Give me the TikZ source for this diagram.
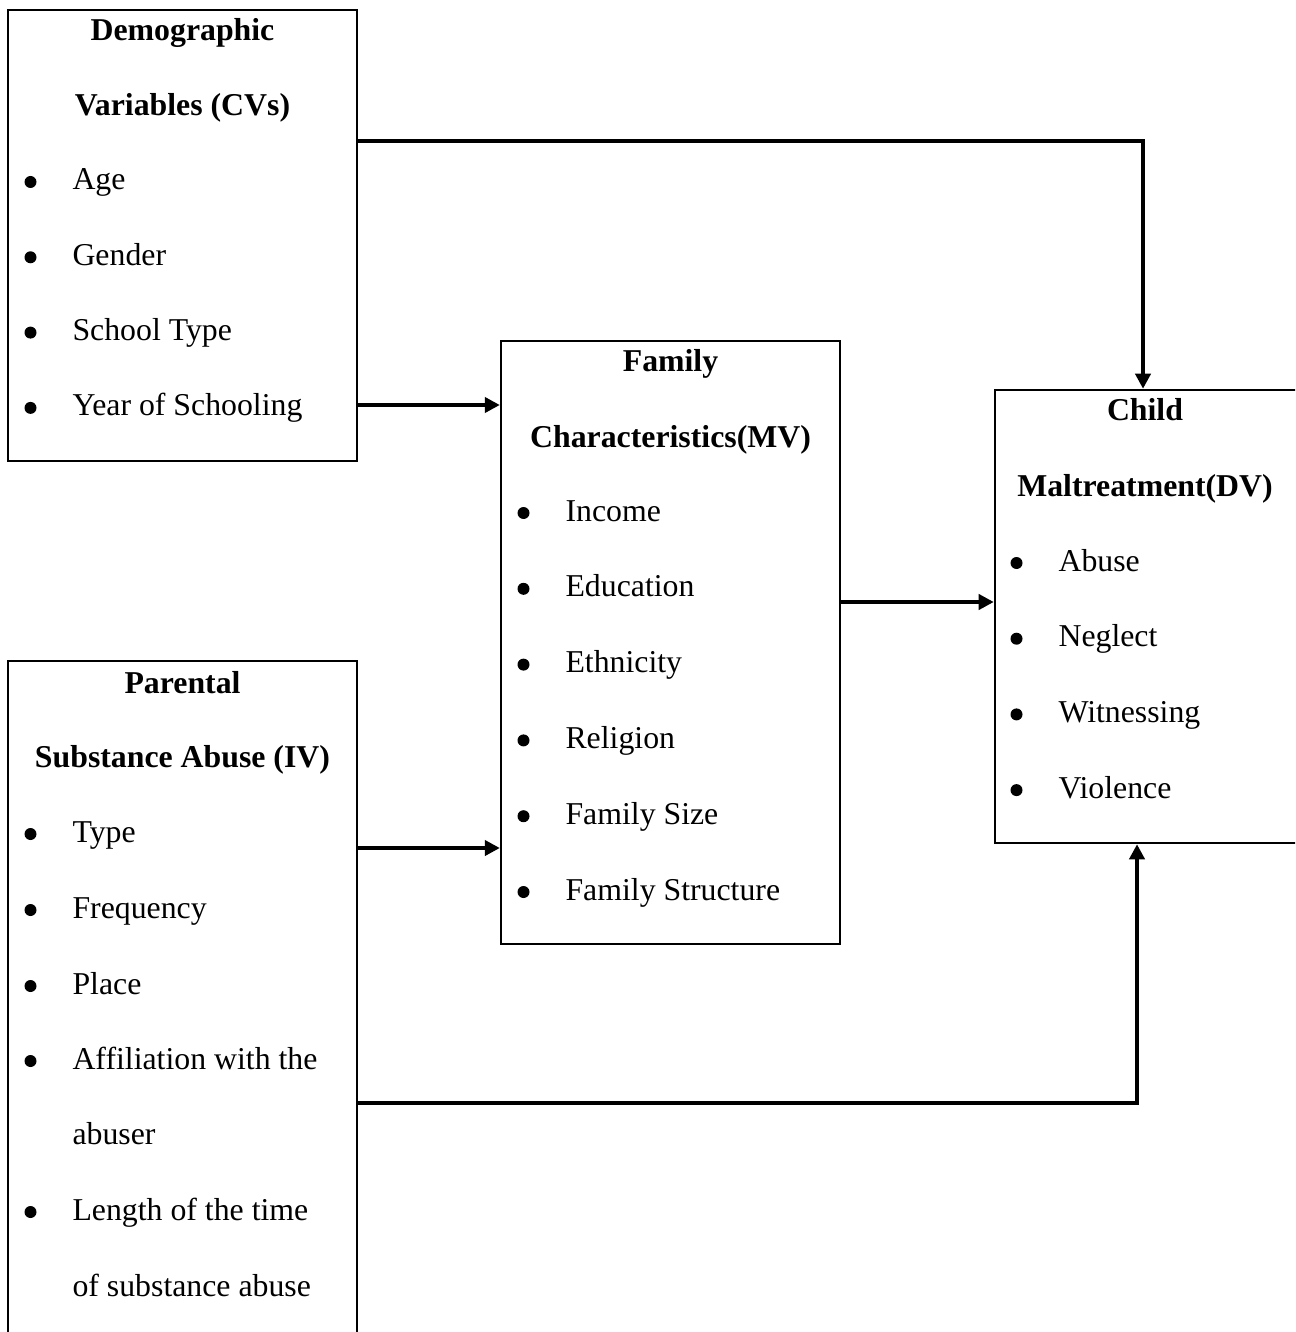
\documentclass[tikz,border=0pt]{standalone}
\usepackage{fontspec}
\setmainfont{Liberation Serif}
\usetikzlibrary{arrows.meta}
\tikzset{box/.style={ % Sets the properties for each variable box
draw,
line width=0.9pt,
inner sep=0pt},
head/.style={ % Bold heading lines of a box
font=\fontsize{12}{14}\selectfont\bfseries,
anchor=base,
inner sep=0pt},
item/.style={ % List entries, bullet drawn separately
font=\fontsize{12}{14}\selectfont,
anchor=base west,
inner sep=0pt},
flow/.style={ % Sets the properties for each arrow
draw,
line width=1.5pt,
-{Triangle[length=5.7pt,width=5.7pt]}}}
\newcommand{\dotat}[1]{\fill (#1.base west) ++(-41.5,-8) circle[radius=6];} % bullet left of an entry

\begin{document}
\begin{tikzpicture}[x=0.3774pt, y=-0.3774pt]
\clip (0,0) rectangle (1295,1332);
% boxes
\node[box, minimum width=131.7pt, minimum height=170.2pt] (cv) at (182.5,235.5) {};
\node[box, minimum width=131.7pt, minimum height=258.1pt] (iv) at (182.5,1003) {};
\node[box, minimum width=127.9pt, minimum height=227.6pt] (mv) at (670.5,642.5) {};
\node[box, minimum width=114pt, minimum height=171pt] (dv) at (1146,616.5) {};
% demographic variables
\node[head] (cvh1) at (182.5,41) {Demographic};
\node[head] (cvh2) at (182.5,116) {Variables (CVs)};
\foreach \t [count=\i] in {Age, Gender, School Type, Year of Schooling}{
  \node[item] (cv\i) at (72,190+75.3*\i-75.3) {\t};
  \dotat{cv\i}}
% parental substance abuse
\node[head] (ivh1) at (182.5,693) {Parental};
\node[head] (ivh2) at (182.5,767) {Substance Abuse (IV)};
\foreach \t/\y [count=\i] in {Type/842, Frequency/918, Place/994, Affiliation with the/1069, Length of the time/1220}{
  \node[item] (iv\i) at (72,\y) {\t};
  \dotat{iv\i}}
\node[item] (iv4b) at (72,1144) {abuser};
\node[item] (iv5b) at (72,1296) {of substance abuse};
% family characteristics
\node[head] (mvh1) at (670.5,372) {Family};
\node[head] (mvh2) at (670.5,447) {Characteristics(MV)};
\foreach \t [count=\i] in {Income, Education, Ethnicity, Religion, Family Size, Family Structure}{
  \node[item] (mv\i) at (565,521+75.8*\i-75.8) {\t};
  \dotat{mv\i}}
% child maltreatment
\node[head] (dvh1) at (1145,421) {Child};
\node[head] (dvh2) at (1145,496) {Maltreatment(DV)};
\foreach \t [count=\i] in {Abuse, Neglect, Witnessing, Violence}{
  \node[item] (dv\i) at (1058,571+75.7*\i-75.7) {\t};
  \dotat{dv\i}}
% arrows
\coordinate (a1) at (1143,141);
\coordinate (a2) at (0,405);
\coordinate (a3) at (0,602);
\coordinate (a4) at (0,848);
\coordinate (a5) at (1137,1103);
\draw[flow] (cv.east |- a1) -| (dv.north -| a1);
\draw[flow] (cv.east |- a2) -- (mv.west |- a2);
\draw[flow] (mv.east |- a3) -- (dv.west |- a3);
\draw[flow] (iv.east |- a4) -- (mv.west |- a4);
\draw[flow] (iv.east |- a5) -| (dv.south -| a5);
\end{tikzpicture}
\end{document}
